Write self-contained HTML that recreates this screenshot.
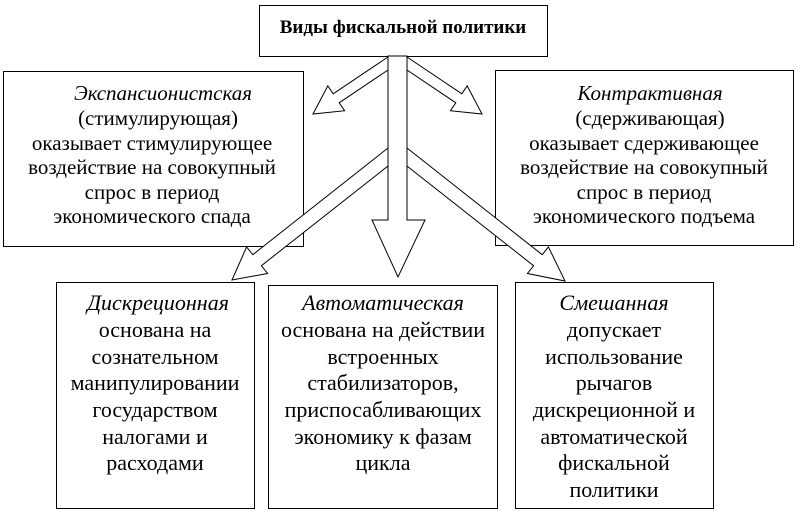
<!DOCTYPE html>
<html><head><meta charset="utf-8"><style>
html,body{margin:0;padding:0;background:#fff;}
svg{display:block;}
text{font-family:"Liberation Serif","DejaVu Serif",serif;fill:#000;}
.t{font-size:21px;}
.b{font-size:22px;}
.i{font-style:italic;}
</style></head><body>
<svg width="800" height="518" viewBox="0 0 800 518" xmlns="http://www.w3.org/2000/svg">
<g fill="#fff" stroke="#000" stroke-width="1">
<rect x="259.5" y="5.5" width="288" height="51"/>
<rect x="3.5" y="71.5" width="300" height="175"/>
<rect x="495.5" y="70.5" width="298" height="175"/>
<rect x="56.5" y="282.5" width="198" height="226"/>
<rect x="268.5" y="285.5" width="229" height="223"/>
<rect x="515.5" y="282.5" width="198" height="226"/>
<polygon points="388,57 333.2,93.8 327.8,85.9 313,114 344.6,110.7 339.2,102.8 388,70"/>
<polygon points="407,57 461.8,93.8 467.2,85.9 482,114 450.4,110.7 455.8,102.8 407,70"/>
<polygon points="388,148 252.8,254.7 246.6,246.9 232,280 267.6,273.5 261.4,265.7 388,166"/>
<polygon points="407,148 542.2,254.7 548.4,246.9 565,281 527.4,273.5 533.6,265.7 407,166"/>
<polygon points="388,56 388,220 372,220 398,277 425,220 407,220 407,56"/>
</g>
<text x="403" y="33" text-anchor="middle" font-size="19" font-weight="bold">Виды фискальной политики</text>
<g class="t" text-anchor="middle">
<text x="163" y="100" class="i">Экспансионистская</text>
<text x="158" y="125">(стимулирующая)</text>
<text x="152" y="150">оказывает стимулирующее</text>
<text x="152" y="174">воздействие на совокупный</text>
<text x="152" y="199">спрос в период</text>
<text x="152" y="223">экономического спада</text>
<text x="650" y="100" class="i">Контрактивная</text>
<text x="650" y="125">(сдерживающая)</text>
<text x="644" y="150">оказывает сдерживающее</text>
<text x="644" y="174">воздействие на совокупный</text>
<text x="644" y="199">спрос в период</text>
<text x="644" y="223">экономического подъема</text>
</g>
<g class="b" text-anchor="middle">
<text x="158" y="310" class="i">Дискреционная</text>
<text x="155" y="337">основана на</text>
<text x="155" y="364">сознательном</text>
<text x="155" y="390">манипулировании</text>
<text x="155" y="417">государством</text>
<text x="155" y="444">налогами и</text>
<text x="155" y="470">расходами</text>
<text x="383" y="310" class="i">Автоматическая</text>
<text x="383" y="337">основана на действии</text>
<text x="383" y="364">встроенных</text>
<text x="383" y="390">стабилизаторов,</text>
<text x="383" y="417">приспосабливающих</text>
<text x="383" y="444">экономику к фазам</text>
<text x="383" y="470">цикла</text>
<text x="614" y="310" class="i">Смешанная</text>
<text x="614" y="337">допускает</text>
<text x="614" y="364">использование</text>
<text x="614" y="390">рычагов</text>
<text x="614" y="417">дискреционной и</text>
<text x="614" y="444">автоматической</text>
<text x="614" y="470">фискальной</text>
<text x="614" y="497">политики</text>
</g>
</svg>
</body></html>
